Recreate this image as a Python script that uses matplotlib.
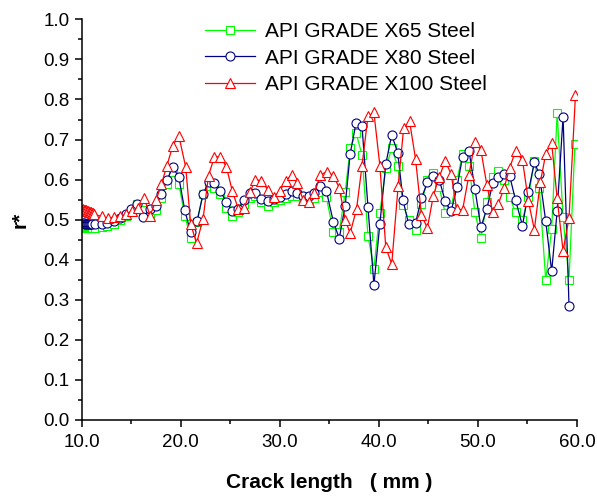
import matplotlib
matplotlib.use("Agg")
import matplotlib.pyplot as plt
from matplotlib.ticker import MultipleLocator, FormatStrFormatter

plt.rcParams['font.family'] = ['Liberation Sans', 'DejaVu Sans']

# crack length (mm) and r*
x65 = [10.1, 10.2, 10.3, 10.4, 10.5, 10.6, 10.7, 10.8, 10.9, 11.0, 11.3,
       12.0, 12.6, 13.3, 13.9, 14.5, 15.0, 15.6, 16.2, 16.9, 17.5, 18.05, 18.6, 19.2, 19.8,
       20.4, 21.0, 21.65, 22.25, 22.8, 23.4, 24.0, 24.6, 25.2, 25.8, 26.4, 27.0, 27.5, 28.15,
       28.8, 29.4, 30.0, 30.6, 31.2, 31.75, 32.35, 32.9, 33.5, 34.1, 34.7, 35.4, 36.0, 36.6,
       37.1, 37.7, 38.3, 38.9, 39.5, 40.1, 40.7, 41.3, 41.9, 42.45, 43.0, 43.7, 44.3, 44.9,
       45.5, 46.1, 46.7, 47.3, 47.9, 48.45, 49.1, 49.7, 50.3, 50.9, 51.5, 52.05, 52.65, 53.2,
       53.8, 54.5, 55.1, 55.7, 56.2, 56.85, 57.45, 58.0, 58.6, 59.2, 59.8]
r65 = [0.482, 0.481, 0.480, 0.480, 0.480, 0.480, 0.480, 0.480, 0.480, 0.480, 0.480,
       0.481, 0.484, 0.490, 0.498, 0.510, 0.522, 0.540, 0.525, 0.515, 0.525, 0.555, 0.590, 0.620, 0.590,
       0.510, 0.455, 0.495, 0.565, 0.585, 0.580, 0.565, 0.530, 0.510, 0.520, 0.540, 0.555, 0.560, 0.545,
       0.535, 0.545, 0.550, 0.555, 0.560, 0.560, 0.548, 0.545, 0.555, 0.568, 0.556, 0.470, 0.470, 0.568,
       0.678, 0.717, 0.661, 0.460, 0.378, 0.517, 0.628, 0.678, 0.633, 0.537, 0.500, 0.474, 0.539, 0.600,
       0.616, 0.581, 0.516, 0.532, 0.600, 0.664, 0.635, 0.518, 0.454, 0.543, 0.607, 0.622, 0.599, 0.557,
       0.518, 0.500, 0.556, 0.647, 0.579, 0.349, 0.477, 0.766, 0.506, 0.349, 0.690]

x80 = [10.1, 10.2, 10.3, 10.4, 10.5, 10.6, 10.7, 10.8, 10.9, 11.0, 11.3,
       12.0, 12.6, 13.3, 13.9, 14.5, 15.0, 15.6, 16.2, 16.9, 17.5, 18.05, 18.6, 19.2, 19.8,
       20.4, 21.0, 21.65, 22.25, 22.8, 23.4, 24.0, 24.6, 25.2, 25.8, 26.4, 27.0, 27.5, 28.15,
       28.8, 29.4, 30.0, 30.6, 31.2, 31.75, 32.35, 32.9, 33.5, 34.1, 34.7, 35.4, 36.0, 36.6,
       37.1, 37.7, 38.3, 38.9, 39.5, 40.1, 40.7, 41.3, 41.9, 42.45, 43.0, 43.7, 44.3, 44.9,
       45.5, 46.1, 46.7, 47.3, 47.9, 48.45, 49.1, 49.7, 50.3, 50.9, 51.5, 52.05, 52.65, 53.2,
       53.8, 54.5, 55.1, 55.7, 56.2, 56.85, 57.45, 58.0, 58.6, 59.2]
r80 = [0.492, 0.491, 0.490, 0.490, 0.490, 0.489, 0.489, 0.489, 0.489, 0.489, 0.488,
       0.488, 0.491, 0.497, 0.503, 0.515, 0.527, 0.539, 0.506, 0.527, 0.535, 0.564, 0.599, 0.631, 0.606,
       0.524, 0.468, 0.497, 0.564, 0.593, 0.591, 0.572, 0.543, 0.522, 0.527, 0.548, 0.566, 0.567, 0.552,
       0.546, 0.552, 0.556, 0.564, 0.571, 0.567, 0.560, 0.558, 0.567, 0.583, 0.572, 0.495, 0.453, 0.535,
       0.664, 0.742, 0.733, 0.532, 0.337, 0.489, 0.639, 0.712, 0.667, 0.548, 0.489, 0.491, 0.554, 0.593,
       0.610, 0.600, 0.546, 0.521, 0.582, 0.657, 0.672, 0.577, 0.481, 0.527, 0.591, 0.606, 0.614, 0.610,
       0.549, 0.485, 0.570, 0.643, 0.614, 0.496, 0.371, 0.521, 0.757, 0.285]

x100 = [10.1, 10.2, 10.3, 10.4, 10.5, 10.6, 10.7, 10.8, 10.9, 11.0, 11.1, 11.2,
        12.0, 12.65, 13.3, 13.85, 14.5, 15.1, 15.7, 16.3, 16.9, 17.5, 18.05, 18.6, 19.2, 19.8,
        20.5, 21.0, 21.6, 22.25, 22.8, 23.4, 24.0, 24.6, 25.2, 25.8, 26.4, 27.0, 27.5, 28.15,
        28.8, 29.4, 30.0, 30.6, 31.2, 31.75, 32.35, 32.95, 33.5, 34.1, 34.75, 35.4, 36.0, 36.6,
        37.1, 37.75, 38.3, 38.9, 39.5, 40.1, 40.7, 41.3, 41.95, 42.5, 43.1, 43.7, 44.3, 44.9,
        45.5, 46.1, 46.7, 47.3, 47.85, 48.45, 49.1, 49.7, 50.3, 50.9, 51.5, 52.05, 52.65, 53.2,
        53.8, 54.5, 55.1, 55.7, 56.3, 56.85, 57.45, 58.0, 58.6, 59.2, 59.85]
r100 = [0.526, 0.525, 0.524, 0.523, 0.522, 0.521, 0.520, 0.519, 0.518, 0.517, 0.516, 0.514,
        0.508, 0.504, 0.506, 0.508, 0.514, 0.521, 0.529, 0.554, 0.510, 0.548, 0.589, 0.635, 0.685, 0.710,
        0.631, 0.489, 0.441, 0.502, 0.610, 0.657, 0.657, 0.632, 0.572, 0.527, 0.529, 0.568, 0.600, 0.597,
        0.574, 0.557, 0.572, 0.597, 0.612, 0.591, 0.550, 0.543, 0.566, 0.612, 0.620, 0.610, 0.580, 0.500,
        0.466, 0.527, 0.635, 0.758, 0.768, 0.635, 0.431, 0.389, 0.585, 0.728, 0.746, 0.652, 0.512, 0.479,
        0.560, 0.607, 0.646, 0.614, 0.527, 0.524, 0.612, 0.695, 0.674, 0.587, 0.518, 0.539, 0.579, 0.629,
        0.671, 0.649, 0.546, 0.475, 0.593, 0.664, 0.691, 0.554, 0.422, 0.504, 0.810]

fig = plt.figure(figsize=(5.97, 4.97), dpi=100)
ax = fig.add_axes([0.1369, 0.155, 0.8295, 0.806])

ax.plot(x65, r65, '-s', color='#00ff00', lw=0.9, ms=5.5, mfc='white', mew=0.8,
        label='API GRADE X65 Steel')
ax.plot(x80, r80, '-o', color='#000080', lw=0.9, ms=6.5, mfc='white', mew=0.8,
        label='API GRADE X80 Steel')
ax.plot(x100, r100, '-^', color='#ff0000', lw=0.9, ms=7.5, mfc='white', mew=0.8,
        label='API GRADE X100 Steel')

ax.set_xlim(10, 60)
ax.set_ylim(0, 1.0)
ax.xaxis.set_major_locator(MultipleLocator(10))
ax.xaxis.set_minor_locator(MultipleLocator(5))
ax.yaxis.set_major_locator(MultipleLocator(0.1))
ax.yaxis.set_minor_locator(MultipleLocator(0.05))
ax.xaxis.set_major_formatter(FormatStrFormatter('%.1f'))
ax.yaxis.set_major_formatter(FormatStrFormatter('%.1f'))

for s in ['top', 'right']:
    ax.spines[s].set_visible(False)
for s in ['left', 'bottom']:
    ax.spines[s].set_linewidth(1.1)
ax.tick_params(which='major', direction='out', length=5.3, width=1.1, labelsize=13.5)
ax.tick_params(axis='x', which='major', pad=4.5)
ax.tick_params(axis='y', which='major', pad=3.6)
ax.tick_params(which='minor', direction='out', length=2.9, width=1.1)

ax.set_xlabel('Crack length   ( mm )', fontsize=15, fontweight='bold', labelpad=16)
ax.set_ylabel('r*', fontsize=15, fontweight='bold', labelpad=10)

ax.legend(loc='upper left', bbox_to_anchor=(205 / 597, 1 - 22 / 497),
          bbox_transform=fig.transFigure, frameon=False, fontsize=15,
          handlelength=2.4, handletextpad=0.5, labelspacing=0.36,
          borderpad=0, borderaxespad=0)

fig.savefig('out.png', dpi=100)
